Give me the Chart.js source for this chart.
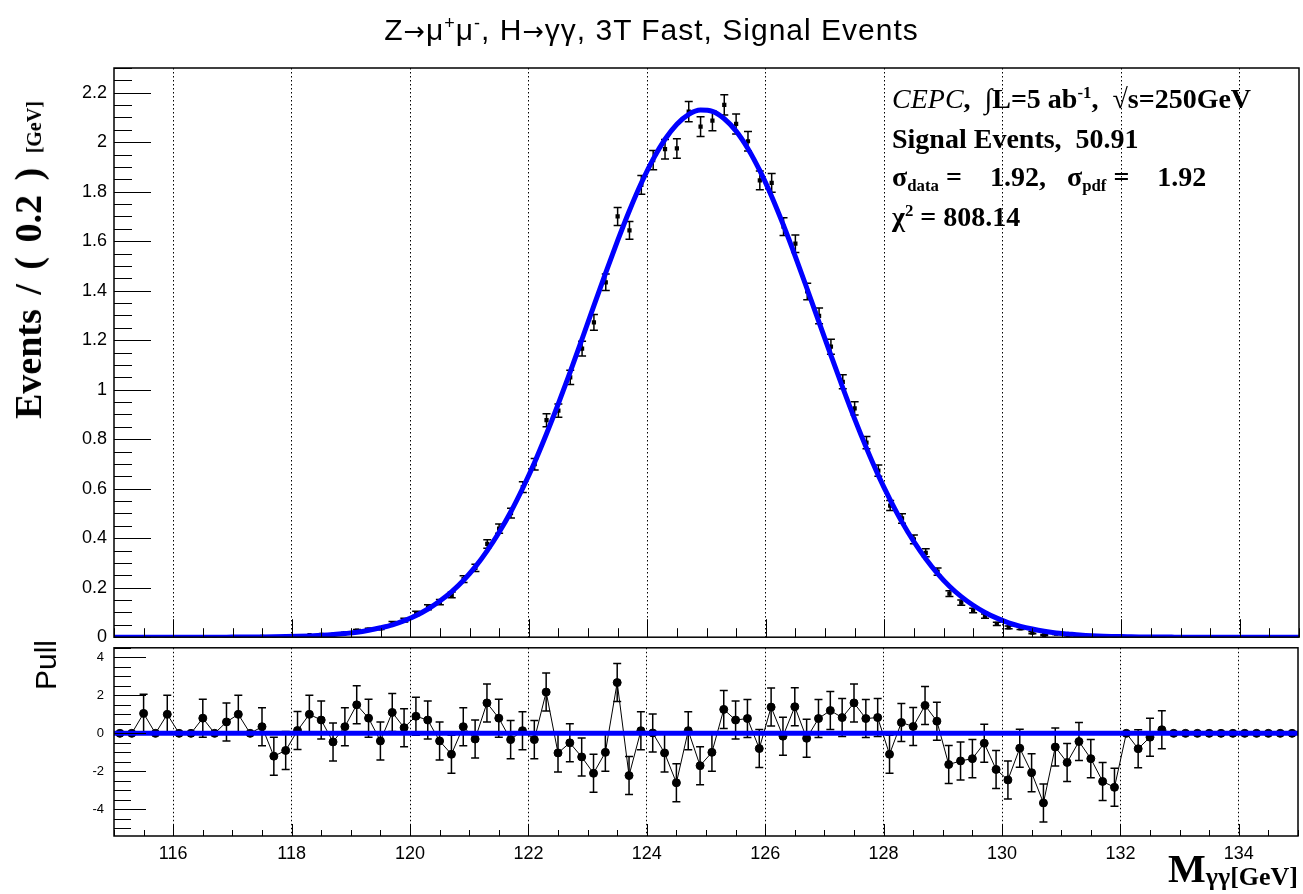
<!DOCTYPE html>
<html>
<head>
<meta charset="utf-8">
<script src="https://cdn.jsdelivr.net/npm/chart.js@4.4.0/dist/chart.umd.min.js"></script>
<style>
  body { margin: 0; background: #fff; }
  #wrap { position: relative; width: 1303px; height: 894px; overflow: hidden; background: #fff; }
  canvas { position: absolute; left: 0; }
  .t { position: absolute; white-space: nowrap; color: #000; line-height: 1; }
  .rot { transform: translate(-50%, -50%) rotate(-90deg); }
  .sp { font-size: 60%; position: relative; top: -0.6em; }
  .sb { font-size: 60%; position: relative; top: 0.3em; }
  .ar { font-family: "DejaVu Sans", sans-serif; font-size: 85%; }
  .ann { left: 892px; font: bold 28px "Liberation Serif", "Times New Roman", serif; }
</style>
</head>
<body>
<div id="wrap">
  <canvas id="topChart" width="1303" height="655" style="top:0"></canvas>
  <canvas id="pullChart" width="1303" height="264" style="top:630px"></canvas>

  <div class="t" style="left:0;width:1303px;text-align:center;top:13px;font:30px 'Liberation Sans',Arial,sans-serif;letter-spacing:1px;">Z<span class="ar">→</span>μ<span class="sp">+</span>μ<span class="sp">-</span>, H<span class="ar">→</span>γγ, 3T Fast, Signal Events</div>

  <div class="t ann" style="top:83px"><span style="font-style:italic;font-weight:normal">CEPC</span>,&nbsp; <span style="font-weight:normal">∫</span>L=5 ab<span class="sp">-1</span>,&nbsp; <span style="font-weight:normal">√</span>s=250GeV</div>
  <div class="t ann" style="top:123px">Signal Events,&nbsp; 50.91</div>
  <div class="t ann" style="top:161px">σ<span class="sb">data</span> =&nbsp;&nbsp;&nbsp; 1.92,&nbsp;&nbsp; σ<span class="sb">pdf</span> =&nbsp;&nbsp;&nbsp; 1.92</div>
  <div class="t ann" style="top:201px">χ<span class="sp">2</span> = 808.14</div>

  <div class="t rot" style="left:28px;top:260px;font:bold 38px 'Liberation Serif',serif;word-spacing:5px;">Events / ( 0.2 ) <span style="font-size:20px;word-spacing:0">[GeV]</span></div>
  <div class="t rot" style="left:46px;top:665px;font:30px 'Liberation Sans',Arial,sans-serif;">Pull</div>
  <div class="t" style="right:5px;top:845px;font:bold 40px 'Liberation Serif',serif;">M<span style="font-size:26px;position:relative;top:3px">γγ[GeV]</span></div>
</div>

<script>
// binning of the histogram
const xMin = 115, xMax = 135, binWidth = 0.2, nBins = 100;
const binCenters = Array.from({ length: nBins }, (_, i) => Math.round((xMin + binWidth * (i + 0.5)) * 10) / 10);

const xTicks = [116, 118, 120, 122, 124, 126, 128, 130, 132, 134];
const yTicks = [0, 0.2, 0.4, 0.6, 0.8, 1, 1.2, 1.4, 1.6, 1.8, 2, 2.2];
const yTickLabels = ['0', '0.2', '0.4', '0.6', '0.8', '1', '1.2', '1.4', '1.6', '1.8', '2', '2.2'];
const pullTicks = [-4, -2, 0, 2, 4];

// signal events per bin
const sigVals = [
  0, 0, 0.0008, 0, 0.0008, 0, 0, 0.0008, 0, 0.0008,
  0.0008, 0, 0.0016, 0.0008, 0.0016, 0.004, 0.0079, 0.0095, 0.0095, 0.016,
  0.027, 0.031, 0.036, 0.057, 0.069, 0.096, 0.121, 0.142, 0.171, 0.235,
  0.280, 0.377, 0.439, 0.501, 0.606, 0.699, 0.877, 0.916, 1.050, 1.166,
  1.272, 1.434, 1.700, 1.644, 1.828, 1.928, 1.972, 1.975, 2.124, 2.063,
  2.087, 2.151, 2.074, 2.004, 1.846, 1.836, 1.659, 1.590, 1.397, 1.298,
  1.174, 1.032, 0.925, 0.786, 0.673, 0.532, 0.480, 0.395, 0.341, 0.265,
  0.176, 0.140, 0.108, 0.085, 0.054, 0.040, 0.036, 0.018, 0.008, 0.014,
  0.008, 0.007, 0.003, 0.0008, 0.0008, 0, 0.0008, 0.0008, 0.0008, 0,
  0, 0, 0, 0, 0, 0, 0, 0, 0, 0
];
const sigErr = [
  0, 0, 0.0008, 0, 0.0008, 0, 0, 0.0008, 0, 0.0008,
  0.0008, 0, 0.0011, 0.0008, 0.0011, 0.0018, 0.0025, 0.0027, 0.0027, 0.0035,
  0.0046, 0.0049, 0.0053, 0.0067, 0.0074, 0.0087, 0.0097, 0.0106, 0.0116, 0.0136,
  0.0148, 0.0172, 0.0186, 0.0198, 0.0218, 0.0234, 0.0262, 0.0268, 0.0288, 0.0302,
  0.0316, 0.0335, 0.0365, 0.0359, 0.0379, 0.0389, 0.0393, 0.0393, 0.0408, 0.0402,
  0.0404, 0.0411, 0.0403, 0.0396, 0.0380, 0.0379, 0.0361, 0.0353, 0.0331, 0.0319,
  0.0304, 0.0284, 0.0269, 0.0248, 0.0230, 0.0204, 0.0193, 0.0175, 0.0163, 0.0144,
  0.0118, 0.0106, 0.0093, 0.0083, 0.0066, 0.0056, 0.0053, 0.0038, 0.0025, 0.0033,
  0.0025, 0.0023, 0.0015, 0.0008, 0.0008, 0, 0.0008, 0.0008, 0.0008, 0,
  0, 0, 0, 0, 0, 0, 0, 0, 0, 0
];
// fitted pdf at the bin centres, plus the two range edges
const fitY = [
  0, 0, 0, 0, 0, 0, 0, 0, 0, 0.0003,
  0.0005, 0.0008, 0.0011, 0.0017, 0.0025, 0.0037, 0.0053, 0.0075, 0.0106, 0.0148,
  0.020, 0.028, 0.038, 0.050, 0.067, 0.088, 0.114, 0.146, 0.184, 0.230,
  0.285, 0.350, 0.424, 0.508, 0.603, 0.707, 0.822, 0.944, 1.072, 1.205,
  1.340, 1.473, 1.602, 1.724, 1.835, 1.932, 2.012, 2.073, 2.113, 2.130,
  2.125, 2.095, 2.045, 1.974, 1.885, 1.781, 1.664, 1.538, 1.406, 1.272,
  1.139, 1.008, 0.882, 0.764, 0.654, 0.555, 0.465, 0.386, 0.317, 0.257,
  0.206, 0.164, 0.129, 0.100, 0.077, 0.058, 0.044, 0.033, 0.024, 0.017,
  0.013, 0.009, 0.006, 0.004, 0.003, 0.002, 0.001, 0.001, 0.0005, 0.0003,
  0, 0, 0, 0, 0, 0, 0, 0, 0, 0
];
const fitEdgeY = [0, 0];

// pull distribution
const pullVals = [
  0, 0, 1.05, 0, 1.0, 0, 0, 0.8, 0, 0.6,
  1.0, 0, 0.35, -1.2, -0.9, 0.15, 1.0, 0.7, -0.45, 0.35,
  1.5, 0.8, -0.4, 1.1, 0.3, 0.9, 0.7, -0.4, -1.1, 0.35,
  -0.3, 1.6, 0.8, -0.33, 0.14, -0.33, 2.17, -1.03, -0.5, -1.24,
  -2.1, -1.0, 2.67, -2.22, 0.14, 0.02, -1.03, -2.6, 0.14, -1.7,
  -1.0, 1.26, 0.7, 0.78, -0.8, 1.38, -0.15, 1.4, -0.26, 0.78,
  1.2, 0.83, 1.6, 0.78, 0.83, -1.1, 0.57, 0.36, 1.47, 0.64,
  -1.64, -1.45, -1.33, -0.52, -1.9, -2.45, -0.78, -2.07, -3.66, -0.72,
  -1.53, -0.43, -1.33, -2.53, -2.84, 0, -0.81, -0.2, 0.19, 0,
  0, 0, 0, 0, 0, 0, 0, 0, 0, 0
];
const pullErr = [
  0, 0, 1, 0, 1, 0, 0, 1, 0, 1,
  1, 0, 1, 1, 1, 1, 1, 1, 1, 1,
  1, 1, 1, 1, 1, 1, 1, 1, 1, 1,
  1, 1, 1, 1, 1, 1, 1, 1, 1, 1,
  1, 1, 1, 1, 1, 1, 1, 1, 1, 1,
  1, 1, 1, 1, 1, 1, 1, 1, 1, 1,
  1, 1, 1, 1, 1, 1, 1, 1, 1, 1,
  1, 1, 1, 1, 1, 1, 1, 1, 1, 1,
  1, 1, 1, 1, 1, 0, 1, 1, 1, 0,
  0, 0, 0, 0, 0, 0, 0, 0, 0, 0
];
const zeroLine = [0, 0];

const sansFont = "'Liberation Sans', Arial, sans-serif";

// ROOT style frame with inward ticks
function frameTicks(cfg) {
  return {
    id: 'frameTicks',
    afterDraw(chart) {
      const { ctx, chartArea: a, scales: { x, y } } = chart;
      ctx.save();
      ctx.strokeStyle = '#000';
      ctx.lineWidth = 1;
      ctx.beginPath();
      for (let k = Math.ceil(xMin / cfg.xMinor); k * cfg.xMinor <= xMax + 1e-9; k++) {
        const v = Math.round(k * cfg.xMinor * 100) / 100;
        const px = Math.round(x.getPixelForValue(v)) + 0.5;
        const len = xTicks.includes(v) ? cfg.xMajorLen : cfg.xMinorLen;
        ctx.moveTo(px, a.bottom);
        ctx.lineTo(px, a.bottom - len);
      }
      for (let k = Math.ceil(y.min / cfg.yMinor); k * cfg.yMinor <= y.max + 1e-9; k++) {
        const v = Math.round(k * cfg.yMinor * 100) / 100;
        const py = Math.round(y.getPixelForValue(v)) + 0.5;
        const len = cfg.yMajors.some(t => Math.abs(t - v) < 1e-6) ? cfg.yMajorLen : cfg.yMinorLen;
        ctx.moveTo(a.left, py);
        ctx.lineTo(a.left + len, py);
      }
      ctx.stroke();
      ctx.lineWidth = 1.5;
      ctx.strokeRect(a.left, a.top, a.right - a.left, a.bottom - a.top);
      ctx.restore();
    }
  };
}

function errorBars(dsIndex, errs, vals, cap) {
  return {
    id: 'errorBars',
    beforeDatasetsDraw(chart) {
      const { ctx, chartArea: a, scales: { x, y } } = chart;
      ctx.save();
      ctx.beginPath();
      ctx.rect(a.left, a.top, a.right - a.left, a.bottom - a.top);
      ctx.clip();
      ctx.strokeStyle = '#000';
      ctx.lineWidth = 1.5;
      ctx.beginPath();
      binCenters.forEach((c, i) => {
        const e = errs[i];
        if (!e) return;
        const px = x.getPixelForValue(c);
        const y1 = y.getPixelForValue(vals[i] - e);
        const y2 = y.getPixelForValue(vals[i] + e);
        ctx.moveTo(px, y1); ctx.lineTo(px, y2);
        ctx.moveTo(px - cap, y1); ctx.lineTo(px + cap, y1);
        ctx.moveTo(px - cap, y2); ctx.lineTo(px + cap, y2);
      });
      ctx.stroke();
      ctx.restore();
    }
  };
}

function xScale(showLabels, height) {
  return {
    type: 'linear',
    min: xMin,
    max: xMax,
    afterBuildTicks: s => { s.ticks = xTicks.map(v => ({ value: v })); },
    afterFit: s => { s.height = height; },
    ticks: {
      display: showLabels,
      padding: 7,
      color: '#000',
      font: { family: sansFont, size: 18 },
      callback: v => String(v)
    },
    grid: { color: '#000', lineWidth: 1, drawTicks: false },
    border: { display: false, dash: [1.5, 2.5] }
  };
}

const topChart = new Chart(document.getElementById('topChart'), {
  type: 'line',
  data: {
    datasets: [
      {
        label: 'data',
        data: binCenters.map((c, i) => ({ x: c, y: sigVals[i] })),
        showLine: false,
        pointStyle: 'rect',
        pointRadius: 3,
        pointBackgroundColor: '#000',
        pointBorderColor: '#000',
        pointBorderWidth: 0,
        order: 2
      },
      {
        label: 'fit',
        data: [{ x: xMin, y: fitEdgeY[0] }]
          .concat(binCenters.map((c, i) => ({ x: c, y: fitY[i] })))
          .concat([{ x: xMax, y: fitEdgeY[1] }]),
        borderColor: '#0000ff',
        borderWidth: 5,
        pointRadius: 0,
        cubicInterpolationMode: 'monotone',
        order: 1
      }
    ]
  },
  options: {
    responsive: false,
    animation: false,
    events: [],
    layout: { padding: { top: 68, right: 4, left: 0, bottom: 0 } },
    plugins: { legend: { display: false }, tooltip: { enabled: false } },
    scales: {
      x: xScale(false, 12),
      y: {
        type: 'linear',
        min: 0,
        max: 2.3,
        afterBuildTicks: s => { s.ticks = yTicks.map(v => ({ value: v })); },
        afterFit: s => { s.width = 114; },
        ticks: {
          padding: 7,
          color: '#000',
          font: { family: sansFont, size: 18 },
          callback: (v, i) => yTickLabels[i]
        },
        grid: { display: false, drawTicks: false },
        border: { display: false }
      }
    }
  },
  plugins: [
    errorBars(0, sigErr, sigVals, 4),
    frameTicks({ xMinor: 0.5, xMajorLen: 18, xMinorLen: 9, yMinor: 0.05, yMajors: yTicks, yMajorLen: 37, yMinorLen: 18 })
  ]
});

const pullChart = new Chart(document.getElementById('pullChart'), {
  type: 'line',
  data: {
    datasets: [
      {
        label: 'pull',
        data: binCenters.map((c, i) => ({ x: c, y: pullVals[i] })),
        borderColor: '#000',
        borderWidth: 1,
        pointRadius: 4,
        pointBackgroundColor: '#000',
        pointBorderColor: '#000',
        tension: 0,
        order: 2
      },
      {
        label: 'zero',
        data: [{ x: xMin, y: zeroLine[0] }, { x: xMax, y: zeroLine[1] }],
        borderColor: '#0000ff',
        borderWidth: 5,
        pointRadius: 0,
        order: 1
      }
    ]
  },
  options: {
    responsive: false,
    animation: false,
    events: [],
    layout: { padding: { top: 15, right: 4, left: 0, bottom: 0 } },
    plugins: { legend: { display: false }, tooltip: { enabled: false } },
    scales: {
      x: xScale(true, 58),
      y: {
        type: 'linear',
        min: -5.4,
        max: 4.5,
        afterBuildTicks: s => { s.ticks = pullTicks.map(v => ({ value: v })); },
        afterFit: s => { s.width = 114; },
        ticks: {
          padding: 10,
          color: '#000',
          font: { family: sansFont, size: 13 },
          callback: v => String(v)
        },
        grid: { display: false, drawTicks: false },
        border: { display: false }
      }
    }
  },
  plugins: [
    errorBars(0, pullErr, pullVals, 4),
    frameTicks({ xMinor: 0.5, xMajorLen: 12, xMinorLen: 6, yMinor: 0.5, yMajors: pullTicks, yMajorLen: 32, yMinorLen: 17 })
  ]
});
</script>
</body>
</html>
